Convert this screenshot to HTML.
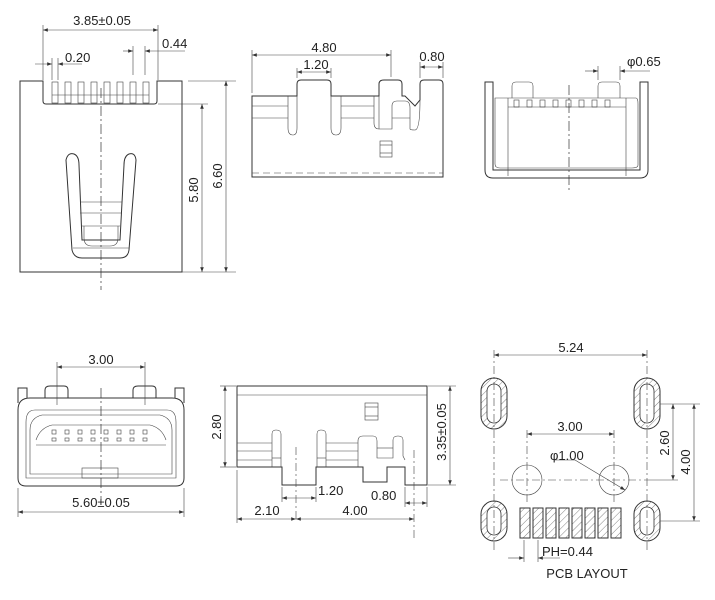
<!DOCTYPE html>
<html><head><style>
html,body{margin:0;padding:0;background:#fff;}
svg{display:block;}
text{font-family:"Liberation Sans",sans-serif;font-size:13px;fill:#222;}
.l{stroke:#333;stroke-width:1;fill:none;}
.t{stroke:#444;stroke-width:0.6;fill:none;}
.c{stroke:#333;stroke-width:0.7;fill:none;stroke-dasharray:10 3 2 3;}
</style></head><body>
<svg width="715" height="600" viewBox="0 0 715 600" xmlns="http://www.w3.org/2000/svg">
<defs>
<marker id="a" markerWidth="8" markerHeight="6" refX="8" refY="3" orient="auto-start-reverse"><path d="M0,0 L8,3 L0,6 z" fill="#333"/></marker>
<pattern id="hp" width="5" height="5" patternUnits="userSpaceOnUse" patternTransform="rotate(45)"><line x1="0" y1="0" x2="0" y2="5" stroke="#666" stroke-width="0.8"/></pattern>
</defs>

<!-- View 1 -->
<path class="l" d="M20,81 H43 V101 Q43,104 46,104 H154 Q157,104 157,101 V81 H182 V272 H20 Z"/>
<g class="t">
<rect x="52" y="82" width="6" height="21"/><rect x="65" y="82" width="6" height="21"/><rect x="78" y="82" width="6" height="21"/><rect x="91" y="82" width="6" height="21"/><rect x="104" y="82" width="6" height="21"/><rect x="117" y="82" width="6" height="21"/><rect x="130" y="82" width="6" height="21"/><rect x="143" y="82" width="6" height="21"/>
<line x1="52" y1="95" x2="149" y2="95"/>
</g>
<path class="l" d="M66,160 Q68,152 74,154 Q79,156 79,165 L82,240 L120,240 L124,165 Q124,156 129,154 Q135,152 136,160 L129,250 Q128,258 120,258 H82 Q74,258 72,250 Z"/>
<g class="t"><line x1="80" y1="202" x2="122" y2="202"/><line x1="80" y1="213" x2="122" y2="213"/><line x1="82" y1="226" x2="120" y2="226"/><path d="M84,226 V238 Q84,246 92,246 H110 Q118,246 118,238 V226"/><line x1="73" y1="248" x2="129" y2="248"/></g>
<line class="c" x1="101" y1="88" x2="101" y2="290"/>
<g class="t"><line x1="43" y1="25" x2="43" y2="80"/><line x1="158" y1="25" x2="158" y2="80"/>
<line x1="52" y1="58" x2="52" y2="80"/><line x1="58" y1="58" x2="58" y2="80"/>
<line x1="133" y1="46" x2="133" y2="75"/><line x1="145" y1="46" x2="145" y2="75"/>
<line x1="188" y1="81" x2="236" y2="81"/><line x1="158" y1="104" x2="208" y2="104"/><line x1="182" y1="272" x2="236" y2="272"/></g>
<line class="t" x1="43" y1="30" x2="158" y2="30" marker-start="url(#a)" marker-end="url(#a)"/>
<line class="t" x1="35" y1="64" x2="52" y2="64" marker-end="url(#a)"/><line class="t" x1="82" y1="64" x2="58" y2="64" marker-end="url(#a)"/>
<line class="t" x1="123" y1="51" x2="133" y2="51" marker-end="url(#a)"/><line class="t" x1="185" y1="51" x2="145" y2="51" marker-end="url(#a)"/>
<line class="t" x1="202" y1="104" x2="202" y2="272" marker-start="url(#a)" marker-end="url(#a)"/>
<line class="t" x1="226" y1="81" x2="226" y2="272" marker-start="url(#a)" marker-end="url(#a)"/>
<text x="102" y="25" text-anchor="middle">3.85±0.05</text>
<text x="65" y="62">0.20</text><text x="162" y="48">0.44</text>
<text transform="translate(198,190) rotate(-90)" text-anchor="middle">5.80</text>
<text transform="translate(222,176) rotate(-90)" text-anchor="middle">6.60</text>

<!-- View 2 -->
<path class="l" d="M252,96 H297 V84 Q297,80 301,80 H327 Q331,80 331,84 V96 H379 V84 Q379,80 384,80 H398 Q402,80 402,84 V96 H405 L415,106 L420,100 V84 Q420,80 424,80 H439 Q443,80 443,84 V177 H252 Z"/>
<g class="t">
<line x1="252" y1="106" x2="288" y2="106"/><line x1="252" y1="118" x2="288" y2="118"/>
<path d="M288,96 V128 Q288,135 293,135 Q297,135 297,128 V96"/>
<path d="M331,96 V128 Q331,135 336,135 Q341,135 341,128 V96"/>
<line x1="341" y1="106" x2="374" y2="106"/><line x1="341" y1="118" x2="374" y2="118"/>
<path d="M374,96 V123 Q374,129 379,129 H392 V106 Q392,101 397,101 H405 Q410,101 410,108 V129 Q410,130 415,130 Q420,130 420,100"/>
<line x1="392" y1="118" x2="410" y2="118"/><line x1="379" y1="96" x2="379" y2="129"/>
<rect x="380" y="141" width="12" height="16"/><line x1="380" y1="145" x2="392" y2="145"/><line x1="380" y1="153" x2="392" y2="153"/>
<line x1="252" y1="173" x2="443" y2="173" stroke-dasharray="7 4"/>
<line x1="252" y1="50" x2="252" y2="93"/><line x1="391" y1="50" x2="391" y2="77"/>
<line x1="297" y1="68" x2="297" y2="78"/><line x1="331" y1="68" x2="331" y2="78"/>
<line x1="420" y1="62" x2="420" y2="78"/><line x1="443" y1="62" x2="443" y2="78"/>
</g>
<line class="t" x1="252" y1="55" x2="391" y2="55" marker-start="url(#a)" marker-end="url(#a)"/>
<line class="t" x1="297" y1="72" x2="331" y2="72" marker-start="url(#a)" marker-end="url(#a)"/>
<line class="t" x1="420" y1="67" x2="443" y2="67" marker-start="url(#a)" marker-end="url(#a)"/>
<text x="324" y="52" text-anchor="middle">4.80</text>
<text x="316" y="69" text-anchor="middle">1.20</text>
<text x="432" y="61" text-anchor="middle">0.80</text>

<!-- View 3 -->
<path class="l" d="M485,82 H493 V170 H640 V82 H648 V170 Q648,178 640,178 H493 Q485,178 485,170 Z"/>
<g class="t">
<path d="M512,98 V86 Q512,82 516,82 H529 Q533,82 533,86 V98"/><path d="M598,98 V86 Q598,82 602,82 H616 Q620,82 620,86 V98"/>
<path d="M495,98 H636 Q638,98 638,104 V165 Q638,168 632,168 H500 Q495,168 495,164 Z"/>
<line x1="508" y1="107" x2="626" y2="107"/><line x1="508" y1="98" x2="508" y2="176"/><line x1="626" y1="98" x2="626" y2="176"/>
<rect x="514" y="100" width="5" height="7"/><rect x="527" y="100" width="5" height="7"/><rect x="540" y="100" width="5" height="7"/><rect x="553" y="100" width="5" height="7"/><rect x="566" y="100" width="5" height="7"/><rect x="579" y="100" width="5" height="7"/><rect x="592" y="100" width="5" height="7"/><rect x="605" y="100" width="5" height="7"/>
<line x1="598" y1="66" x2="598" y2="80"/><line x1="620" y1="66" x2="620" y2="80"/>
</g>
<line class="c" x1="569" y1="85" x2="569" y2="190"/>
<line class="t" x1="585" y1="71" x2="598" y2="71" marker-end="url(#a)"/><line class="t" x1="650" y1="71" x2="620" y2="71" marker-end="url(#a)"/>
<text x="627" y="66">φ0.65</text>

<!-- View 4 -->
<g class="l">
<path d="M18,403 V388 H27 V398"/><path d="M184,403 V388 H175 V398"/>
<path d="M30,398 H172 Q184,398 184,410 V478 Q184,486 176,486 H26 Q18,486 18,478 V410 Q18,398 30,398 Z"/>
<path d="M45,398 V390 Q45,386 50,386 H64 Q68,386 68,390 V398"/><path d="M133,398 V390 Q133,386 138,386 H152 Q156,386 156,390 V398"/>
</g>
<g class="t">
<path d="M35,410 H167 Q176,410 176,422 V478 H26 V422 Q26,410 35,410 Z"/>
<path d="M42,415 H160 Q172,418 172,430 V474 H30 V430 Q30,418 42,415 Z"/>
<path d="M36,440 Q40,428 52,425 H150 Q162,428 166,440"/>
<line x1="36" y1="445" x2="166" y2="445"/>
<rect x="82" y="468" width="36" height="10"/>
<rect x="52" y="430" width="4" height="4"/><rect x="65" y="430" width="4" height="4"/><rect x="78" y="430" width="4" height="4"/><rect x="91" y="430" width="4" height="4"/><rect x="104" y="430" width="4" height="4"/><rect x="117" y="430" width="4" height="4"/><rect x="130" y="430" width="4" height="4"/><rect x="143" y="430" width="4" height="4"/>
<rect x="52" y="438" width="4" height="3"/><rect x="65" y="438" width="4" height="3"/><rect x="78" y="438" width="4" height="3"/><rect x="91" y="438" width="4" height="3"/><rect x="104" y="438" width="4" height="3"/><rect x="117" y="438" width="4" height="3"/><rect x="130" y="438" width="4" height="3"/><rect x="143" y="438" width="4" height="3"/>
<line x1="57" y1="362" x2="57" y2="405"/><line x1="145" y1="362" x2="145" y2="405"/>
<line x1="18" y1="488" x2="18" y2="517"/><line x1="184" y1="488" x2="184" y2="517"/>
</g>
<line class="c" x1="101" y1="388" x2="101" y2="500"/>
<line class="t" x1="57" y1="367" x2="145" y2="367" marker-start="url(#a)" marker-end="url(#a)"/>
<line class="t" x1="18" y1="512" x2="184" y2="512" marker-start="url(#a)" marker-end="url(#a)"/>
<text x="101" y="364" text-anchor="middle">3.00</text>
<text x="101" y="507" text-anchor="middle">5.60±0.05</text>

<!-- View 5 -->
<path class="l" d="M237,386 H427 V485 H405 V467 H387 V482 H363 V467 H316 V485 H282 V467 H237 Z"/>
<g class="t">
<line x1="237" y1="395" x2="427" y2="395"/>
<rect x="365" y="403" width="13" height="17"/><line x1="365" y1="407" x2="378" y2="407"/><line x1="365" y1="416" x2="378" y2="416"/>
<line x1="237" y1="443" x2="272" y2="443"/><line x1="237" y1="451" x2="272" y2="451"/><line x1="237" y1="460" x2="272" y2="460"/>
<path d="M272,467 V434 Q272,430 276,430 Q281,430 281,434 V467"/><line x1="272" y1="458" x2="281" y2="458"/>
<path d="M317,467 V434 Q317,430 321,430 Q326,430 326,434 V467"/><line x1="317" y1="458" x2="326" y2="458"/>
<line x1="326" y1="443" x2="358" y2="443"/><line x1="326" y1="451" x2="358" y2="451"/><line x1="326" y1="460" x2="358" y2="460"/>
<path d="M358,467 V441 Q358,436 363,436 H373 Q377,436 377,441 V458 H393 V440 Q393,436 398,436 Q403,436 403,440 V456 L405,460"/>
<line x1="377" y1="448" x2="393" y2="448"/>
<line x1="296" y1="447" x2="296" y2="520" stroke-dasharray="8 3 2 3"/>
<line x1="414" y1="450" x2="414" y2="540" stroke-dasharray="8 3 2 3"/>
<line x1="237" y1="470" x2="237" y2="523"/>
<line x1="282" y1="487" x2="282" y2="502"/><line x1="316" y1="487" x2="316" y2="502"/>
<line x1="405" y1="487" x2="405" y2="507"/><line x1="427" y1="487" x2="427" y2="507"/>
<line x1="220" y1="386" x2="236" y2="386"/><line x1="220" y1="467" x2="236" y2="467"/>
<line x1="428" y1="386" x2="456" y2="386"/><line x1="428" y1="485" x2="456" y2="485"/>
</g>
<line class="t" x1="225" y1="386" x2="225" y2="467" marker-start="url(#a)" marker-end="url(#a)"/>
<line class="t" x1="450" y1="386" x2="450" y2="485" marker-start="url(#a)" marker-end="url(#a)"/>
<line class="t" x1="282" y1="498" x2="316" y2="498" marker-start="url(#a)" marker-end="url(#a)"/>
<line class="t" x1="405" y1="503" x2="427" y2="503" marker-start="url(#a)" marker-end="url(#a)"/>
<line class="t" x1="237" y1="519" x2="296" y2="519" marker-start="url(#a)" marker-end="url(#a)"/>
<line class="t" x1="296" y1="519" x2="414" y2="519" marker-start="url(#a)" marker-end="url(#a)"/>
<text transform="translate(221,427) rotate(-90)" text-anchor="middle">2.80</text>
<text transform="translate(446,432) rotate(-90)" text-anchor="middle">3.35±0.05</text>
<text x="318" y="495">1.20</text><text x="371" y="500">0.80</text>
<text x="267" y="515" text-anchor="middle">2.10</text><text x="355" y="515" text-anchor="middle">4.00</text>

<!-- PCB -->
<g>
<rect x="481" y="378" width="26" height="51" rx="13" fill="url(#hp)" stroke="#333"/><rect x="487" y="384" width="14" height="39" rx="7" fill="#fff" stroke="#333" stroke-width="0.8"/>
<rect x="634" y="378" width="26" height="51" rx="13" fill="url(#hp)" stroke="#333"/><rect x="640" y="384" width="14" height="39" rx="7" fill="#fff" stroke="#333" stroke-width="0.8"/>
<rect x="481" y="501" width="26" height="40" rx="13" fill="url(#hp)" stroke="#333"/><rect x="487" y="507" width="14" height="28" rx="7" fill="#fff" stroke="#333" stroke-width="0.8"/>
<rect x="634" y="501" width="26" height="40" rx="13" fill="url(#hp)" stroke="#333"/><rect x="640" y="507" width="14" height="28" rx="7" fill="#fff" stroke="#333" stroke-width="0.8"/>
</g>
<g fill="url(#hp)" stroke="#333" stroke-width="1">
<rect x="520" y="508" width="10" height="30"/><rect x="533" y="508" width="10" height="30"/><rect x="546" y="508" width="10" height="30"/><rect x="559" y="508" width="10" height="30"/><rect x="572" y="508" width="10" height="30"/><rect x="585" y="508" width="10" height="30"/><rect x="598" y="508" width="10" height="30"/><rect x="611" y="508" width="10" height="30"/>
</g>
<circle class="t" cx="527" cy="480" r="15"/><circle class="t" cx="614" cy="480" r="15"/>
<g class="t" stroke-dasharray="8 3 2 3">
<line x1="500" y1="480" x2="650" y2="480"/>
<line x1="527" y1="430" x2="527" y2="505"/><line x1="614" y1="430" x2="614" y2="505"/>
<line x1="494" y1="350" x2="494" y2="550"/><line x1="647" y1="350" x2="647" y2="550"/>
</g>
<g class="t">
<line x1="660" y1="404" x2="700" y2="404"/><line x1="650" y1="480" x2="678" y2="480"/><line x1="660" y1="521" x2="700" y2="521"/>
<line x1="524" y1="540" x2="524" y2="562"/><line x1="538" y1="540" x2="538" y2="562"/>
<line x1="554" y1="460" x2="575" y2="460"/><line x1="575" y1="460" x2="625" y2="490" marker-end="url(#a)"/>
</g>
<line class="t" x1="494" y1="355" x2="647" y2="355" marker-start="url(#a)" marker-end="url(#a)"/>
<line class="t" x1="527" y1="434" x2="614" y2="434" marker-start="url(#a)" marker-end="url(#a)"/>
<line class="t" x1="673" y1="404" x2="673" y2="480" marker-start="url(#a)" marker-end="url(#a)"/>
<line class="t" x1="694" y1="404" x2="694" y2="521" marker-start="url(#a)" marker-end="url(#a)"/>
<line class="t" x1="508" y1="558" x2="524" y2="558" marker-end="url(#a)"/><line class="t" x1="560" y1="558" x2="538" y2="558" marker-end="url(#a)"/>
<text x="571" y="352" text-anchor="middle">5.24</text>
<text x="570" y="431" text-anchor="middle">3.00</text>
<text x="550" y="460">φ1.00</text>
<text transform="translate(669,443) rotate(-90)" text-anchor="middle">2.60</text>
<text transform="translate(690,462) rotate(-90)" text-anchor="middle">4.00</text>
<text x="542" y="556">PH=0.44</text>
<text x="587" y="578" text-anchor="middle">PCB LAYOUT</text>
</svg>
</body></html>
